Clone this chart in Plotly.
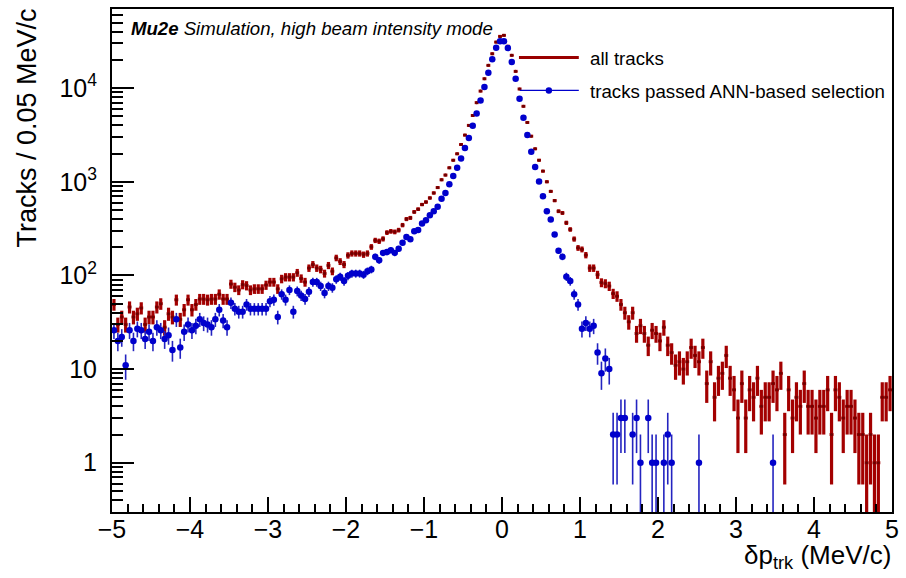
import numpy as np
import plotly.graph_objects as go

# ---------------- data ----------------
bin_edges = np.round(np.linspace(-5.0, 5.0, 201), 3)
bin_centers = list(np.round((bin_edges[:-1] + bin_edges[1:]) / 2, 3))

# all tracks, counts per 0.05 MeV/c bin (-4.975 ... 4.975)
all_tracks = [
    49, 30, 36, 30, 46, 36, 39, 45, 30, 36,
    36, 46, 50, 28, 39, 36, 55, 34, 43, 55,
    43, 49, 56, 56, 55, 56, 56, 63, 56, 56,
    81, 75, 70, 80, 78, 70, 72, 72, 72, 79,
    85, 85, 72, 92, 96, 96, 96, 107,
    93, 85, 120, 131, 120, 116, 105, 128, 111, 154,
    141, 131, 164, 172, 172, 172, 167, 172, 202, 237,
    232, 246, 287, 296, 292, 305, 345, 400, 412, 477,
    510, 572, 608, 672, 760, 867,
    1050, 1180, 1410, 1700, 1990, 2500, 3150, 4000, 5100, 7000,
    9300, 12600, 17500, 23300, 31000, 35700, 36600, 28000, 22400, 15100,
    9800, 6400, 4300, 3070, 2250, 1700, 1300, 1000, 790, 630,
    485, 465, 365, 310, 245, 197, 190, 165, 120, 120,
    102, 84, 82, 77, 64, 60, 49, 40, 32, 40,
    24, 29, 24, 18, 26, 24,
    20, 28, 18, 15, 11, 12, 10, 12, 17, 14,
    12, 17, 7, 12, 5, 8, 9, 14, 8, 6,
    3, 7, 3, 6, 5, 8, 4, 5, 5, 7,
    6, 9, 2, 6, 3, 5, 4, 7, 4, 4,
    3, 4, 4, 6, 2, 6, 5, 3, 4, 4,
    3, 2, 2, 1, 2, 1, 1, 5, 5, 6,
]

# tracks passed ANN-based selection
ann_tracks = [
    26, 20, 22, 11, 26, 20, 27, 26, 21, 25,
    20, 28, 26, 21, 23, 16, 34, 17, 25, 30,
    26, 29, 34, 31, 30, 28, 34, 43, 33, 28,
    51, 44, 41, 41, 49, 44, 44, 44, 44, 44,
    53, 55, 36, 63, 55, 70, 41, 68,
    61, 56, 67, 85, 85, 77, 65, 77, 74, 91,
    97, 87, 99, 105, 105, 105, 102, 111, 116, 158,
    145, 174, 178, 186, 174, 193, 224, 258, 244, 296,
    305, 358, 388, 438, 484, 540, 660, 760, 940,
    1150, 1410, 1770, 2300, 2940, 3970, 5350, 7400, 10300, 14600,
    20300, 27000, 31600, 31600, 26800, 19000, 12600, 7700, 4840, 3150,
    2090, 1440, 1010, 700,
    485, 395, 273, 183, 158, 97, 87, 63, 49, 27,
    31, 27, 29, 15, 9, 13, 10,
    2, 2, 3, 3, 0, 2, 3, 1, 0, 3,
    1, 1, 0, 1, 2, 1, 0, 0, 0, 0,
    0, 0, 1,
    0, 0, 0, 0, 0, 0, 0, 0, 0, 0,
    0, 0, 0, 0, 0, 0, 0, 0,
    1,
    0, 0, 0, 0, 0, 0, 0, 0, 0, 0,
    0, 0, 0, 0, 0, 0, 0, 0, 0, 0,
    0, 0, 0, 0, 0, 0, 0, 0, 0, 0,
]

x_tick_vals = [-5, -4, -3, -2, -1, 0, 1, 2, 3, 4, 5]
y_tick_vals = [1, 10, 100, 1000, 10000]
y_tick_text = ["1", "10", "10<sup>2</sup>", "10<sup>3</sup>", "10<sup>4</sup>"]

series_names = ["all tracks", "tracks passed ANN-based selection"]
RED = "#990000"
BLUE = "#0000cc"
FONT = "Liberation Sans, Arial, Helvetica, sans-serif"


def prep(counts):
    y, up, dn = [], [], []
    for c in counts:
        if c > 0:
            e = float(np.sqrt(c))
            y.append(c)
            up.append(e)
            dn.append(min(e, c * 0.999))
        else:
            y.append(None)
            up.append(None)
            dn.append(None)
    return y, up, dn


y_all, up_all, dn_all = prep(all_tracks)
y_ann, up_ann, dn_ann = prep(ann_tracks)

fig = go.Figure()
fig.add_trace(go.Scatter(
    x=bin_centers, y=y_all, mode="markers", name=series_names[0],
    marker=dict(size=3, color="#6e0000"),
    error_y=dict(type="data", symmetric=False, array=up_all, arrayminus=dn_all,
                 thickness=3.2, width=0, color="#a30000"),
    error_x=dict(type="constant", value=0.025, thickness=3, width=0, color="#a30000"),
    showlegend=False,
))
fig.add_trace(go.Scatter(
    x=bin_centers, y=y_ann, mode="markers", name=series_names[1],
    marker=dict(size=6.5, color=BLUE),
    error_y=dict(type="data", symmetric=False, array=up_ann, arrayminus=dn_ann,
                 thickness=1.6, width=0, color="#2424c0"),
    showlegend=False,
))

minor_y = [m * 10 ** d for d in range(-1, 5) for m in range(2, 10) if 0.29 < m * 10 ** d < 70000]

fig.update_layout(
    width=906, height=578,
    margin=dict(l=112, r=12, t=7, b=66),
    paper_bgcolor="white", plot_bgcolor="white",
    font=dict(family=FONT, color="black"),
    xaxis=dict(
        range=[-5, 5], tickmode="array", tickvals=x_tick_vals,
        ticks="inside", ticklen=15, tickwidth=1.5, tickcolor="black",
        minor=dict(dtick=0.2, ticks="inside", ticklen=8, tickwidth=1.5, tickcolor="black", showgrid=False),
        showline=True, linecolor="black", linewidth=2, mirror=True,
        showgrid=False, zeroline=False,
        tickfont=dict(family=FONT, size=25, color="black"),
        ticklabelstandoff=-6,
    ),
    yaxis=dict(
        type="log", range=[-0.526, 4.845], tickmode="array",
        tickvals=y_tick_vals, ticktext=y_tick_text,
        ticks="inside", ticklen=22, tickwidth=1.5, tickcolor="black",
        minor=dict(tickmode="array", tickvals=minor_y, ticks="inside", ticklen=11,
                   tickwidth=1.5, tickcolor="black", showgrid=False),
        showline=True, linecolor="black", linewidth=2, mirror=True,
        showgrid=False, zeroline=False,
        tickfont=dict(family=FONT, size=25, color="black"),
        ticklabelstandoff=8,
    ),
)

PW, PH = 782.0, 504.4


def px(xp):
    return (xp - 112) / PW


def py(yp):
    return (511.7 - yp) / PH


# header label
fig.add_annotation(
    x=px(129), y=py(27), xref="paper", yref="paper", xanchor="left", yanchor="middle",
    text="<b><i>Mu2e</i></b><i> Simulation, high beam intensity mode</i>",
    showarrow=False, font=dict(family=FONT, size=18.6, color="black"),
)

# legend
fig.add_shape(type="line", xref="paper", yref="paper",
              x0=px(520), x1=px(580), y0=py(56), y1=py(56),
              line=dict(color=RED, width=3))
fig.add_shape(type="line", xref="paper", yref="paper",
              x0=px(521), x1=px(580), y0=py(89), y1=py(89),
              line=dict(color=BLUE, width=1.2))
fig.add_shape(type="circle", xref="paper", yref="paper",
              x0=px(546.8), x1=px(553.2), y0=py(85.8), y1=py(92.2),
              fillcolor=BLUE, line=dict(color=BLUE, width=0))
fig.add_annotation(x=px(589), y=py(57), xref="paper", yref="paper",
                   xanchor="left", yanchor="middle", text=series_names[0],
                   showarrow=False, font=dict(family=FONT, size=18.7, color="black"))
fig.add_annotation(x=px(589), y=py(90), xref="paper", yref="paper",
                   xanchor="left", yanchor="middle", text=series_names[1],
                   showarrow=False, font=dict(family=FONT, size=18.7, color="black"))

# axis titles
fig.add_annotation(
    x=px(895), y=py(556), xref="paper", yref="paper", xanchor="right", yanchor="middle",
    text="δp<sub>trk</sub> (MeV/c)", showarrow=False,
    font=dict(family=FONT, size=26, color="black"),
)
fig.add_annotation(
    x=px(27), y=py(127), xref="paper", yref="paper", xanchor="center", yanchor="middle",
    text="Tracks / 0.05 MeV/c", textangle=-90, showarrow=False,
    font=dict(family=FONT, size=27, color="black"),
)

fig.write_html("out.html")
